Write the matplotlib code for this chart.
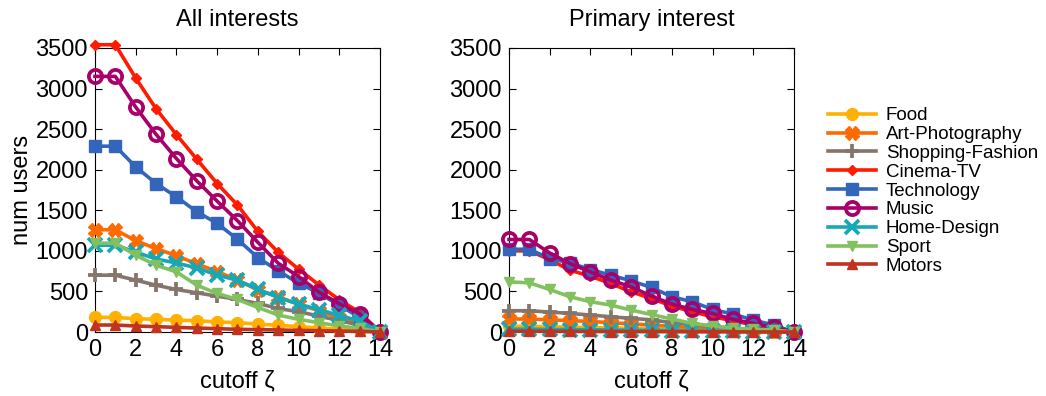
import matplotlib.pyplot as plt
import numpy as np

plt.rcParams['font.family'] = ['Liberation Sans', 'DejaVu Sans']

cutoff = list(range(15))

categories = ['Food', 'Art-Photography', 'Shopping-Fashion', 'Cinema-TV', 'Technology',
              'Music', 'Home-Design', 'Sport', 'Motors']

# all interests
all_food = [180, 180, 164, 156, 147, 139, 123, 115, 98, 82, 66, 49, 33, 25, 0]
all_art = [1260, 1260, 1125, 1028, 940, 840, 745, 640, 518, 436, 340, 262, 170, 110, 0]
all_shop = [700, 700, 639, 577, 524, 483, 442, 401, 352, 290, 250, 197, 139, 86, 0]
all_cinema = [3540, 3540, 3130, 2751, 2432, 2129, 1830, 1564, 1240, 982, 774, 581, 397, 242, 0]
all_tech = [2290, 2290, 2035, 1830, 1666, 1482, 1339, 1142, 917, 753, 602, 480, 330, 180, 0]
all_music = [3150, 3150, 2772, 2436, 2137, 1863, 1613, 1371, 1105, 847, 684, 491, 348, 225, 0]
all_home = [1070, 1070, 985, 900, 850, 790, 702, 637, 528, 425, 344, 276, 205, 135, 0]
all_sport = [1095, 1095, 946, 823, 741, 577, 475, 401, 303, 209, 156, 115, 74, 45, 0]
all_motors = [86, 86, 74, 66, 57, 49, 41, 33, 29, 25, 20, 16, 12, 8, 0]

# primary interest
pri_food = [70, 70, 65, 60, 55, 50, 45, 40, 34, 28, 22, 16, 10, 5, 0]
pri_art = [160, 160, 150, 140, 130, 115, 100, 85, 70, 55, 40, 30, 20, 10, 0]
pri_shop = [262, 262, 246, 229, 209, 188, 168, 150, 115, 94, 66, 45, 33, 25, 0]
pri_cinema = [1000, 1000, 892, 761, 688, 598, 495, 413, 319, 250, 188, 139, 86, 45, 0]
pri_tech = [1020, 1020, 905, 852, 770, 700, 630, 549, 434, 373, 278, 221, 147, 86, 0]
pri_music = [1140, 1140, 974, 843, 741, 639, 557, 442, 344, 278, 229, 156, 106, 57, 0]
pri_home = [35, 35, 32, 30, 28, 25, 22, 20, 17, 14, 11, 8, 5, 3, 0]
pri_sport = [618, 606, 524, 434, 373, 332, 270, 215, 160, 106, 74, 49, 33, 25, 0]
pri_motors = [10, 10, 9, 8, 7, 6, 5, 5, 4, 3, 3, 2, 1, 1, 0]

all_series = [all_food, all_art, all_shop, all_cinema, all_tech,
              all_music, all_home, all_sport, all_motors]
pri_series = [pri_food, pri_art, pri_shop, pri_cinema, pri_tech,
              pri_music, pri_home, pri_sport, pri_motors]

colors = ['#ffb000', '#ff6a00', '#85756b', '#ff1a00', '#3366bb',
          '#a8006a', '#17a8b8', '#82c060', '#c0331e']
markers = ['o', 'X', '+', 'D', 's', 'o', 'x', 'v', '^']
msizes = [8.5, 9.5, 10, 5.5, 8, 9.5, 9.5, 7, 7]

FONT_SIZE = 17

fig = plt.figure(figsize=(10.46, 3.96), dpi=100)
ax1 = fig.add_axes([0.0908, 0.1616, 0.2725, 0.7172])
ax2 = fig.add_axes([0.4866, 0.1616, 0.2725, 0.7172])

for ax, series, title in [(ax1, all_series, 'All interests'), (ax2, pri_series, 'Primary interest')]:
    for name, vals, c, m, ms in zip(categories, series, colors, markers, msizes):
        hollow = name == 'Music'
        ax.plot(cutoff, vals, color=c, marker=m, markersize=ms, linewidth=2.6,
                markerfacecolor='none' if hollow else c,
                markeredgecolor=c, markeredgewidth=2.7 if m in ('+', 'x', 'o') and (hollow or m != 'o') else 1,
                label=name, clip_on=False, zorder=3)
    ax.set_xlim(0, 14)
    ax.set_ylim(0, 3500)
    ax.set_xticks(np.arange(0, 15, 2))
    ax.set_yticks(np.arange(0, 3501, 500))
    ax.tick_params(direction='in', top=True, right=True, length=5, labelsize=FONT_SIZE, pad=5)
    ax.set_title(title, fontsize=FONT_SIZE, pad=16)
    ax.set_xlabel('cutoff ζ', fontsize=FONT_SIZE, labelpad=7)
    for sp in ax.spines.values():
        sp.set_zorder(2.5)

ax1.set_ylabel('num users', fontsize=FONT_SIZE, labelpad=2)

handles, labels = ax1.get_legend_handles_labels()
fig.legend(handles, labels, loc='upper left', bbox_to_anchor=(0.784, 0.748),
           frameon=False, fontsize=13.5, labelspacing=0.09, handlelength=2.6,
           handletextpad=0.5, borderaxespad=0)

fig.savefig('out.png', dpi=100)
